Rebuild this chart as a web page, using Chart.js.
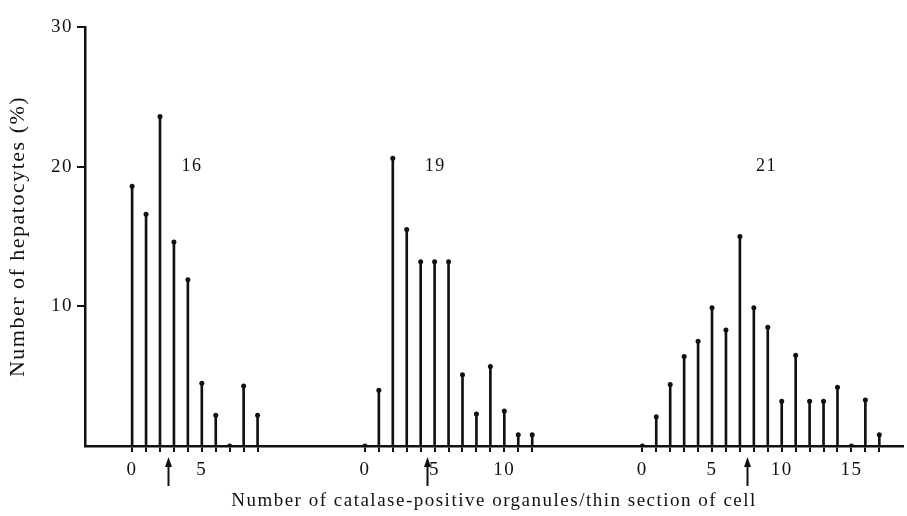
<!DOCTYPE html>
<html>
<head>
<meta charset="utf-8">
<script src="https://cdn.jsdelivr.net/npm/chart.js@4.4.1/dist/chart.umd.min.js"></script>
<style>
  html, body { margin: 0; padding: 0; background: #fff; }
</style>
</head>
<body>
<canvas id="chart" width="907" height="516"></canvas>
<script>
// three samples, each a distribution of organule counts per section
const groupNames = ["16", "19", "21"];

const counts16 = [0, 1, 2, 3, 4, 5, 6, 7, 8, 9];
const percent16 = [18.6, 16.6, 23.6, 14.6, 11.9, 4.5, 2.2, 0, 4.3, 2.2];

const counts19 = [0, 1, 2, 3, 4, 5, 6, 7, 8, 9, 10, 11, 12];
const percent19 = [0, 4.0, 20.6, 15.5, 13.2, 13.2, 13.2, 5.1, 2.3, 5.7, 2.5, 0.8, 0.8];

const counts21 = [0, 1, 2, 3, 4, 5, 6, 7, 8, 9, 10, 11, 12, 13, 14, 15, 16, 17];
const percent21 = [0, 2.1, 4.4, 6.4, 7.5, 9.9, 8.3, 15.0, 9.9, 8.5, 3.2, 6.5, 3.2, 3.2, 4.2, 0, 3.3, 0.8];

// mean count of each sample (arrows under the axis)
const means = [2.55, 4.45, 7.5];

const xTickLabels = ["0", "5", "10", "15"];
const yTickValues = [10, 20, 30];

// layout: where each group starts along the shared x axis, and where its name sits
const GROUP_OFFSET = [0, 16.7, 36.6];
const NAME_POS = [{ x: 4.3, y: 20 }, { x: 5.05, y: 20 }, { x: 8.9, y: 20 }];

const INK = "#111";
const SERIF = "'Liberation Serif', 'DejaVu Serif', serif";

const groups = [
  { counts: counts16, values: percent16 },
  { counts: counts19, values: percent19 },
  { counts: counts21, values: percent21 },
];

const stemPoints = [];
const tickValues = [];
const tickText = {};
groups.forEach((g, i) => {
  g.counts.forEach((c, j) => {
    const x = GROUP_OFFSET[i] + c;
    stemPoints.push({ x: x, y: g.values[j] });
    tickValues.push(x);
    tickText[x.toFixed(2)] = xTickLabels.includes(String(c)) ? String(c) : "";
  });
});

const extrasPlugin = {
  id: "extras",
  beforeDraw(chart) {
    // the old typesetting is a little wider than Times
    chart.ctx.letterSpacing = "1.5px";
  },
  afterDraw(chart) {
    const ctx = chart.ctx;
    const xs = chart.scales.x;
    const ys = chart.scales.y;
    ctx.save();
    ctx.fillStyle = INK;
    ctx.strokeStyle = INK;

    // sample names
    ctx.font = "18px " + SERIF;
    ctx.textAlign = "center";
    ctx.textBaseline = "middle";
    groupNames.forEach((name, i) => {
      const px = xs.getPixelForValue(GROUP_OFFSET[i] + NAME_POS[i].x);
      const py = ys.getPixelForValue(NAME_POS[i].y);
      ctx.fillText(name, px, py);
    });

    // arrows marking the means
    const base = ys.getPixelForValue(0);
    means.forEach((m, i) => {
      const px = Math.round(xs.getPixelForValue(GROUP_OFFSET[i] + m)) + 0.5;
      ctx.lineWidth = 2;
      ctx.beginPath();
      ctx.moveTo(px, base + 40);
      ctx.lineTo(px, base + 18);
      ctx.stroke();
      ctx.beginPath();
      ctx.moveTo(px, base + 11);
      ctx.lineTo(px - 3.5, base + 21);
      ctx.lineTo(px + 3.5, base + 21);
      ctx.closePath();
      ctx.fill();
    });
    ctx.restore();
  },
};

new Chart(document.getElementById("chart"), {
  type: "bar",
  data: {
    datasets: [
      {
        type: "bar",
        data: stemPoints,
        backgroundColor: INK,
        barThickness: 2,
        grouped: false,
        borderWidth: 0,
      },
      {
        type: "line",
        data: stemPoints,
        showLine: false,
        pointRadius: 2.5,
        pointBackgroundColor: INK,
        pointBorderWidth: 0,
      },
    ],
  },
  options: {
    responsive: false,
    animation: false,
    layout: { padding: { top: 27, right: 0, left: 0, bottom: 0 } },
    plugins: {
      legend: { display: false },
      tooltip: { enabled: false },
    },
    scales: {
      x: {
        type: "linear",
        min: -3.38,
        max: 55.3,
        offset: false,
        afterBuildTicks: (scale) => {
          scale.ticks = tickValues.map((v) => ({ value: v }));
        },
        afterFit: (scale) => {
          scale.height = 70;
        },
        ticks: {
          autoSkip: false,
          maxRotation: 0,
          padding: 7,
          color: INK,
          font: { family: SERIF, size: 19 },
          callback: (v) => tickText[Number(v).toFixed(2)] || "",
        },
        grid: {
          offset: false,
          drawOnChartArea: false,
          tickLength: 6,
          color: INK,
          lineWidth: 2,
        },
        border: { display: true, color: INK, width: 2.5 },
        title: {
          display: true,
          text: "Number of catalase-positive organules/thin section of cell",
          color: INK,
          font: { family: SERIF, size: 19 },
          padding: { top: 0, bottom: 4 },
        },
      },
      y: {
        min: 0,
        max: 30,
        afterBuildTicks: (scale) => {
          scale.ticks = yTickValues.map((v) => ({ value: v }));
        },
        afterFit: (scale) => {
          scale.width = 85;
        },
        ticks: {
          padding: 4,
          color: INK,
          font: { family: SERIF, size: 19 },
        },
        grid: {
          drawOnChartArea: false,
          tickLength: 8,
          color: INK,
          lineWidth: 2,
        },
        border: { display: true, color: INK, width: 2.5 },
        title: {
          display: true,
          text: "Number of hepatocytes (%)",
          color: INK,
          font: { family: SERIF, size: 22 },
          padding: { top: 5, bottom: 0 },
        },
      },
    },
  },
  plugins: [extrasPlugin],
});
</script>
</body>
</html>
